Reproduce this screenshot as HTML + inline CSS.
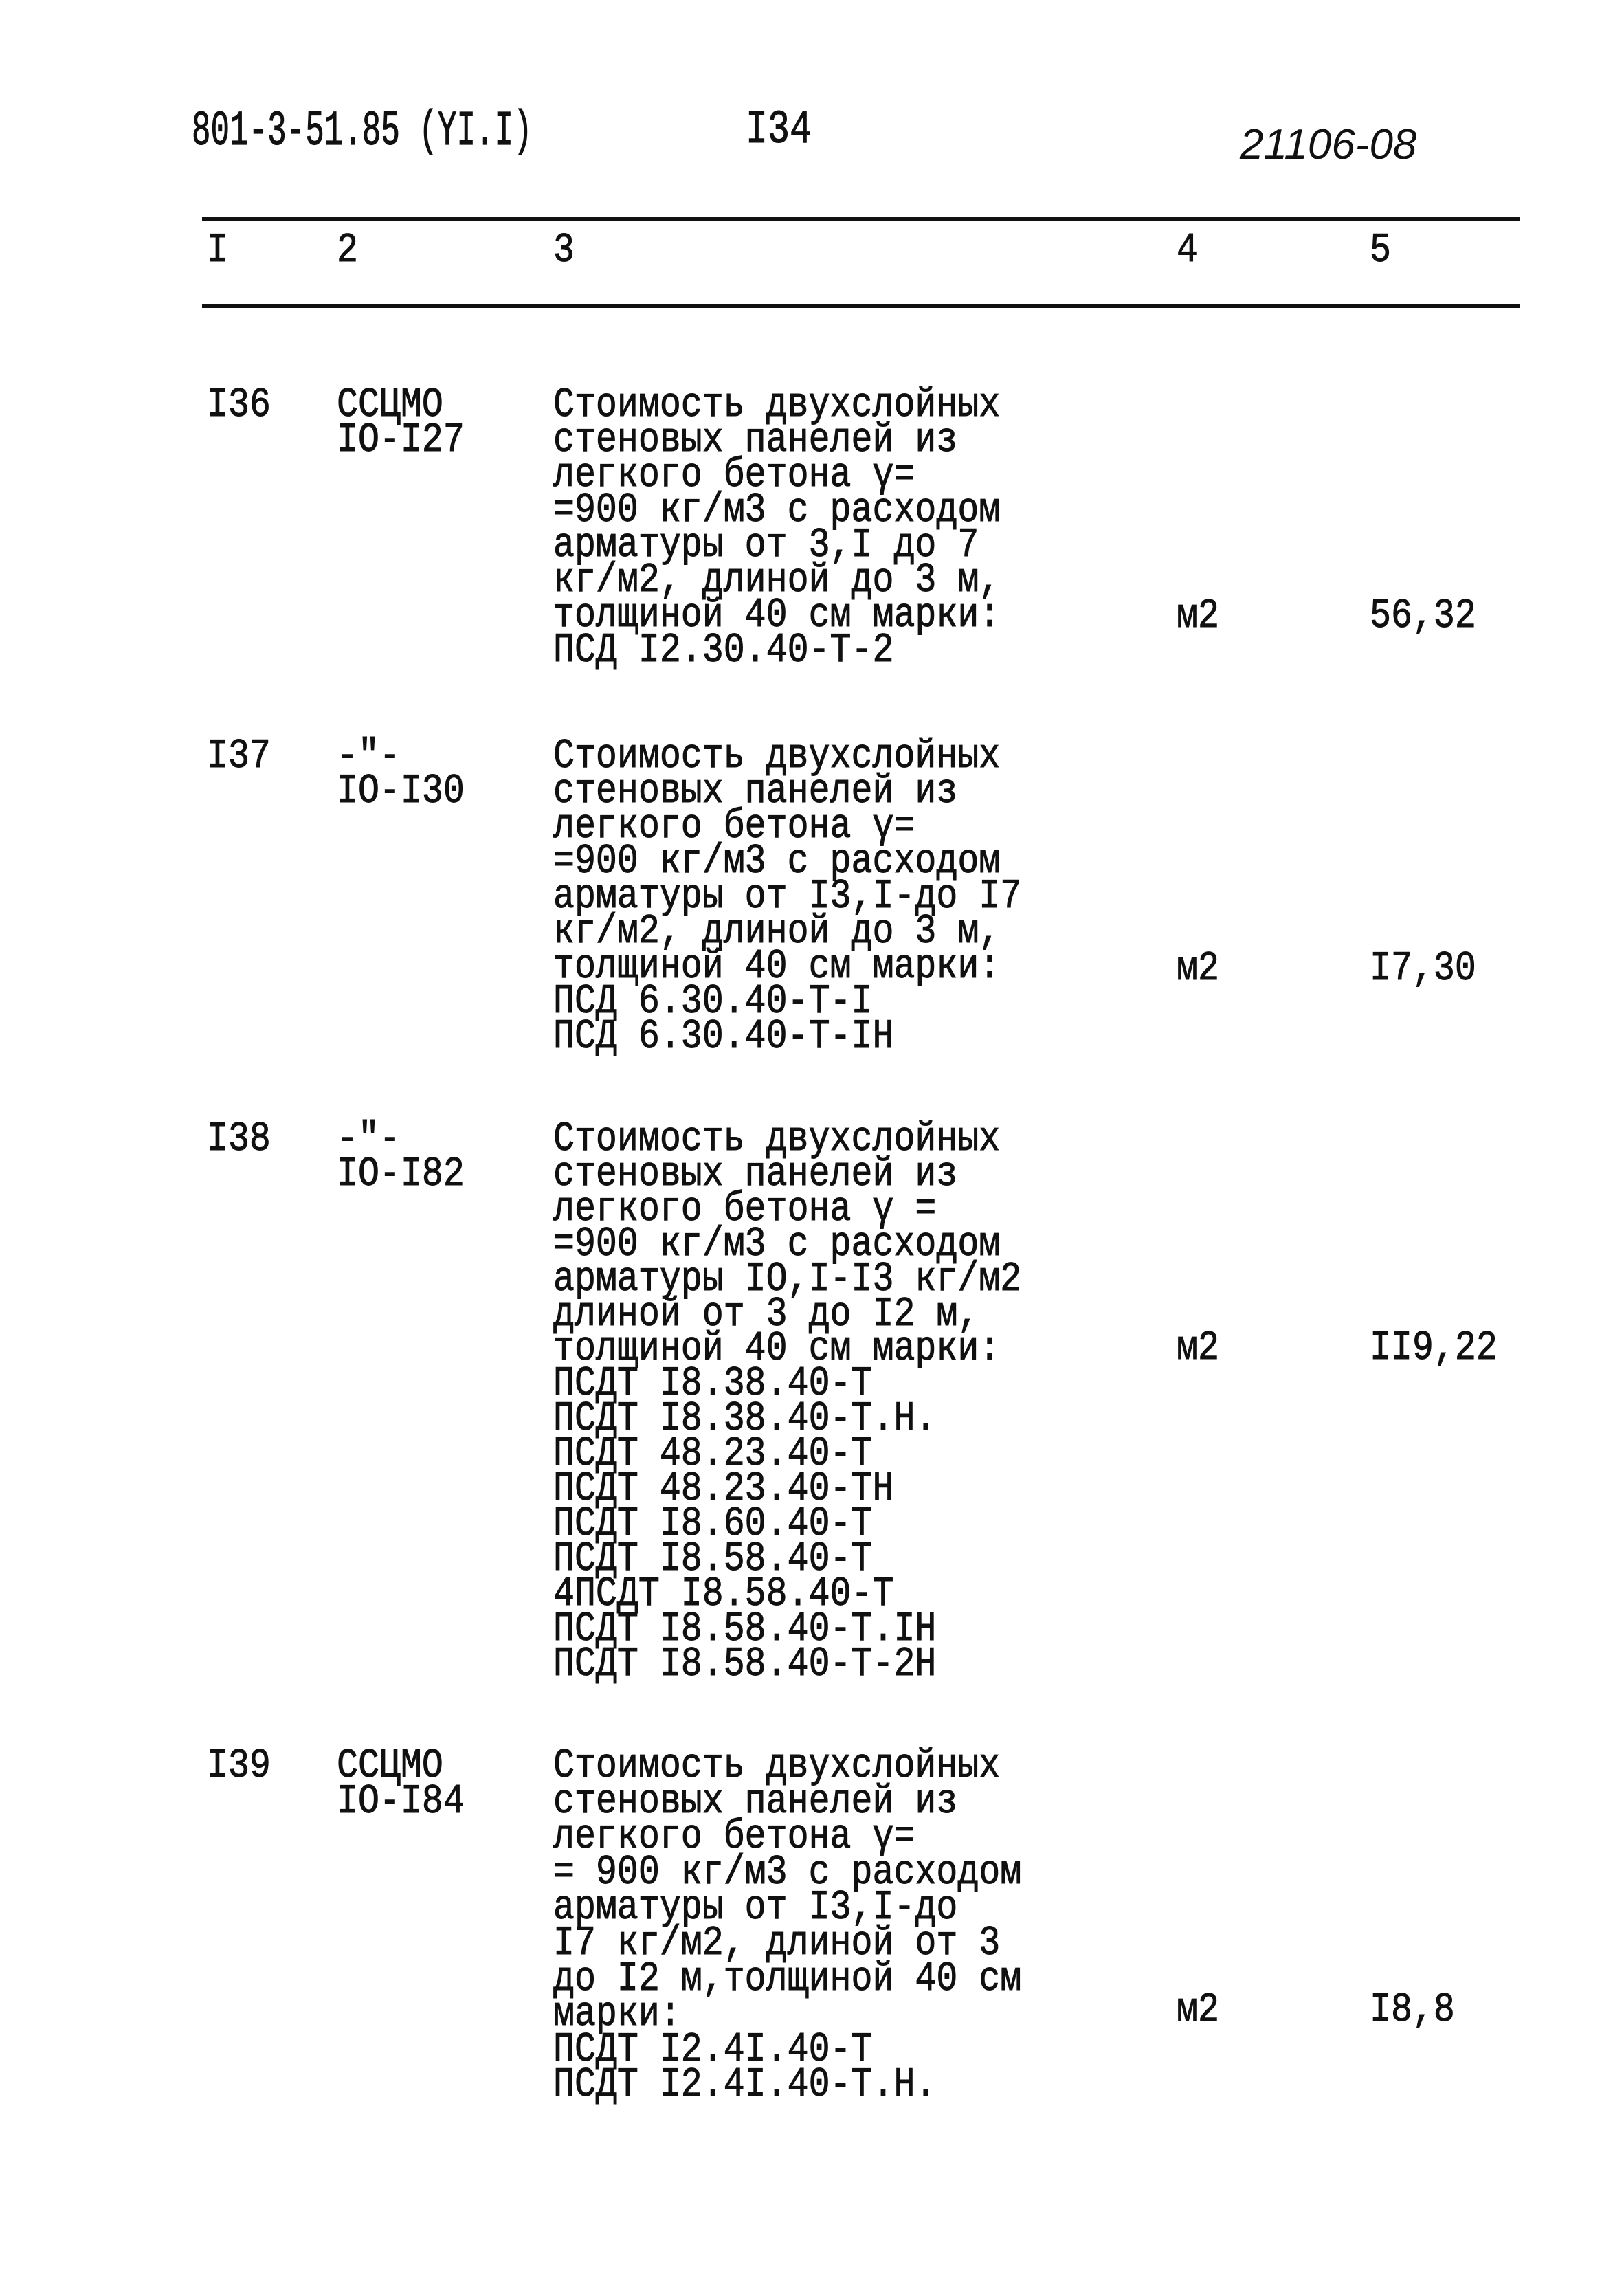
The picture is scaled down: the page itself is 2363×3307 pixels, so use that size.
<!DOCTYPE html>
<html><head><meta charset="utf-8"><style>
html,body{margin:0;padding:0;background:#fff;}
body{width:2363px;height:3307px;position:relative;overflow:hidden;}
.t{position:absolute;font-family:"Liberation Mono","DejaVu Sans Mono",monospace;font-size:60px;color:#111;white-space:pre;transform:scaleX(0.86);transform-origin:0 0;-webkit-text-stroke:1px #111;}
.ln{position:absolute;left:294px;width:1918px;height:6px;background:#111;}
.h{position:absolute;font-family:"Liberation Mono",monospace;font-size:62px;color:#111;white-space:pre;-webkit-text-stroke:1px #111;}
</style></head><body>
<div class="h" style="left:279px;top:150px;transform:scale(0.74,1.15);transform-origin:0 0;">801-3-51.85 (YI.I)</div>
<div class="h" style="left:1085px;top:150px;transform:scale(0.86,1.1);transform-origin:0 0;">I34</div>
<div class="h" style="left:1804px;top:175px;font-style:italic;font-family:'Liberation Sans',sans-serif;font-size:62px;-webkit-text-stroke:0;">21106-08</div>
<div class="ln" style="top:315px"></div>
<div class="ln" style="top:442px"></div>
<div class="t" style="left:301px;top:335px;line-height:60px">I</div>
<div class="t" style="left:490px;top:335px;line-height:60px">2</div>
<div class="t" style="left:805px;top:335px;line-height:60px">3</div>
<div class="t" style="left:1712px;top:335px;line-height:60px">4</div>
<div class="t" style="left:1993px;top:335px;line-height:60px">5</div>

<div class="t" style="left:301px;top:565px;line-height:51px">I36</div>
<div class="t" style="left:490px;top:565px;line-height:51px">ССЦМО
IO-I27</div>
<div class="t" style="left:805px;top:565px;line-height:51px">Стоимость двухслойных
стеновых панелей из
легкого бетона γ=
=900 кг/м3 с расходом
арматуры от 3,I до 7
кг/м2, длиной до 3 м,
толщиной 40 см марки:
ПСД I2.30.40-Т-2</div>
<div class="t" style="left:1712px;top:872px;line-height:51px">м2</div>
<div class="t" style="left:1993px;top:872px;line-height:51px">56,32</div>

<div class="t" style="left:301px;top:1076px;line-height:51px">I37</div>
<div class="t" style="left:490px;top:1076px;line-height:51px">-"-
IO-I30</div>
<div class="t" style="left:805px;top:1076px;line-height:51px">Стоимость двухслойных
стеновых панелей из
легкого бетона γ=
=900 кг/м3 с расходом
арматуры от I3,I-до I7
кг/м2, длиной до 3 м,
толщиной 40 см марки:
ПСД 6.30.40-Т-I
ПСД 6.30.40-Т-IН</div>
<div class="t" style="left:1712px;top:1385px;line-height:51px">м2</div>
<div class="t" style="left:1993px;top:1385px;line-height:51px">I7,30</div>

<div class="t" style="left:301px;top:1633px;line-height:50.9px">I38</div>
<div class="t" style="left:490px;top:1633px;line-height:50.9px">-"-
IO-I82</div>
<div class="t" style="left:805px;top:1633px;line-height:50.9px">Стоимость двухслойных
стеновых панелей из
легкого бетона γ =
=900 кг/м3 с расходом
арматуры IO,I-I3 кг/м2
длиной от 3 до I2 м,
толщиной 40 см марки:
ПСДТ I8.38.40-Т
ПСДТ I8.38.40-Т.Н.
ПСДТ 48.23.40-Т
ПСДТ 48.23.40-ТН
ПСДТ I8.60.40-Т
ПСДТ I8.58.40-Т
4ПСДТ I8.58.40-Т
ПСДТ I8.58.40-Т.IН
ПСДТ I8.58.40-Т-2Н</div>
<div class="t" style="left:1712px;top:1937px;line-height:51px">м2</div>
<div class="t" style="left:1993px;top:1937px;line-height:51px">II9,22</div>

<div class="t" style="left:301px;top:2545px;line-height:51.6px">I39</div>
<div class="t" style="left:490px;top:2545px;line-height:51.6px">ССЦМО
IO-I84</div>
<div class="t" style="left:805px;top:2545px;line-height:51.6px">Стоимость двухслойных
стеновых панелей из
легкого бетона γ=
= 900 кг/м3 с расходом
арматуры от I3,I-до
I7 кг/м2, длиной от 3
до I2 м,толщиной 40 см
марки:
ПСДТ I2.4I.40-Т
ПСДТ I2.4I.40-Т.Н.</div>
<div class="t" style="left:1712px;top:2900px;line-height:51px">м2</div>
<div class="t" style="left:1993px;top:2900px;line-height:51px">I8,8</div>
</body></html>
